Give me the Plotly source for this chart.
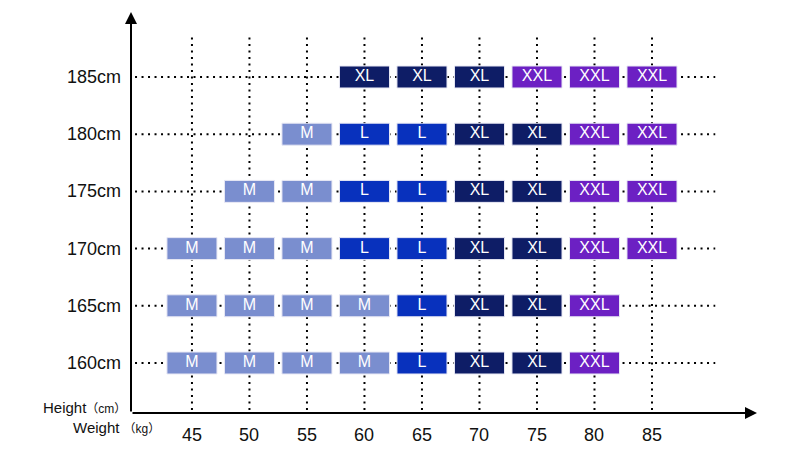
import plotly.graph_objects as go

# ---- data ----
weights = [45, 50, 55, 60, 65, 70, 75, 80, 85]
weight_labels = ["45", "50", "55", "60", "65", "70", "75", "80", "85"]
heights = [160, 165, 170, 175, 180, 185]
height_labels = ["160cm", "165cm", "170cm", "175cm", "180cm", "185cm"]

# sizes per height row, aligned with weights (None = empty)
size_160 = ["M", "M", "M", "M", "L", "XL", "XL", "XXL", None]
size_165 = ["M", "M", "M", "M", "L", "XL", "XL", "XXL", None]
size_170 = ["M", "M", "M", "L", "L", "XL", "XL", "XXL", "XXL"]
size_175 = [None, "M", "M", "L", "L", "XL", "XL", "XXL", "XXL"]
size_180 = [None, None, "M", "L", "L", "XL", "XL", "XXL", "XXL"]
size_185 = [None, None, None, "XL", "XL", "XL", "XXL", "XXL", "XXL"]
size_rows = [size_160, size_165, size_170, size_175, size_180, size_185]

size_colors = {"M": "#7a8ecf", "L": "#0831bd", "XL": "#0e1d66", "XXL": "#6c20c3"}

FONT = "Liberation Sans, Arial, Noto Sans CJK SC, sans-serif"

BOX_W = 4.35   # in kg units
BOX_H = 1.92   # in cm units

fig = go.Figure()
shapes = []

# dotted grid lines
for w in weights:
    shapes.append(dict(type="line", xref="x", yref="y", x0=w, x1=w, y0=155.9, y1=188.85,
                       layer="below",
                       line=dict(color="black", width=2, dash="2px,4.5px")))
for h in heights:
    shapes.append(dict(type="line", xref="x", yref="y", x0=40.05, x1=90.5, y0=h, y1=h,
                       layer="below",
                       line=dict(color="black", width=2, dash="2px,4.5px")))

# boxes
tx, ty, tt = [], [], []
for h, row in zip(heights, size_rows):
    for w, s in zip(weights, row):
        if s is None:
            continue
        shapes.append(dict(type="rect", xref="x", yref="y", layer="below",
                           x0=w - BOX_W / 2, x1=w + BOX_W / 2,
                           y0=h - BOX_H / 2, y1=h + BOX_H / 2,
                           fillcolor=size_colors[s], line=dict(color="#e8e8f4", width=1)))
        tx.append(w); ty.append(h); tt.append(s)

fig.add_trace(go.Scatter(x=tx, y=ty, text=tt, mode="text",
                         textfont=dict(color="white", size=16, family=FONT),
                         hoverinfo="skip", showlegend=False))

annotations = []
# axis arrows
annotations.append(dict(xref="paper", yref="paper", x=0, y=1, ax=0, ay=401,
                        axref="pixel", ayref="pixel", showarrow=True, arrowhead=2,
                        arrowsize=1.2, arrowwidth=2, arrowcolor="black", text=""))
annotations.append(dict(xref="paper", yref="paper", x=1, y=0, ax=-626, ay=0,
                        showarrow=True, arrowhead=2, arrowsize=1.2, arrowwidth=2,
                        arrowcolor="black", text=""))

# tick labels
for w, lab in zip(weights, weight_labels):
    annotations.append(dict(xref="x", yref="paper", x=w, y=-0.055, text=lab, showarrow=False,
                            xanchor="center", yanchor="middle",
                            font=dict(size=18, color="#111", family=FONT)))
for h, lab in zip(heights, height_labels):
    annotations.append(dict(xref="paper", yref="y", x=-0.012, y=h, text=lab, showarrow=False,
                            xanchor="right", yanchor="middle",
                            font=dict(size=18, color="#111", family=FONT)))

annotations.append(dict(xref="paper", yref="paper", x=-0.004, y=0.013,
                        text="Height<span style='font-size:12px'>（cm）</span>",
                        showarrow=False, xanchor="right", yanchor="middle",
                        font=dict(size=15, color="#111", family=FONT)))
annotations.append(dict(xref="paper", yref="paper", x=0.05, y=-0.037,
                        text="Weight <span style='font-size:12px'>（kg）</span>",
                        showarrow=False, xanchor="right", yanchor="middle",
                        font=dict(size=15, color="#111", family=FONT)))

# page body has an 8px margin, so shift the plot area up/left by 8px
fig.update_layout(
    width=800, height=462,
    margin=dict(l=123, r=51, t=4, b=57),
    paper_bgcolor="white", plot_bgcolor="white",
    shapes=shapes, annotations=annotations,
    xaxis=dict(range=[39.70, 94.13], showgrid=False, zeroline=False,
               showticklabels=False, showline=False, fixedrange=True),
    yaxis=dict(range=[155.63, 190.68], showgrid=False, zeroline=False,
               showticklabels=False, showline=False, fixedrange=True),
    showlegend=False,
)

fig.write_html("out.html")
